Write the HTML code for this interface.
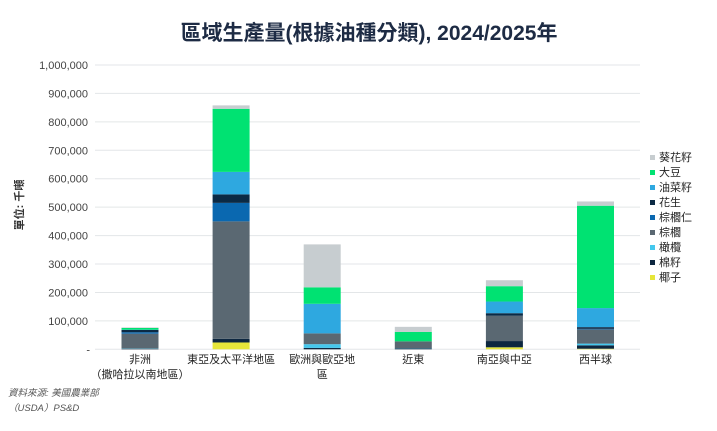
<!DOCTYPE html>
<html><head><meta charset="utf-8"><style>
html,body{margin:0;padding:0;background:#fff;}
body{width:717px;height:426px;overflow:hidden;font-family:"Liberation Sans","Noto Sans CJK TC",sans-serif;}
</style></head><body>
<svg id="chart" width="717" height="426" xmlns="http://www.w3.org/2000/svg" font-family="Liberation Sans, Noto Sans CJK TC, sans-serif">
<text x="369" y="40" text-anchor="middle" font-size="21" font-weight="bold" fill="#1d2b44">區域生產量(根據油種分類), 2024/2025年</text>
<text transform="translate(23,205) rotate(-90)" text-anchor="middle" font-size="11" font-weight="bold" fill="#333">單位: 千噸</text>
<g id="grid"></g><g id="bars"></g><g id="xlabels"></g><g id="legend"></g>
<text x="8" y="396" font-size="9.5" font-style="italic" fill="#555">資料來源: 美國農業部</text>
<text x="8" y="411" font-size="9.5" font-style="italic" fill="#555">（USDA）PS&amp;D</text>
</svg>
<script>
const categories=[["非洲","（撒哈拉以南地區）"],["東亞及太平洋地區"],["歐洲與歐亞地","區"],["近東"],["南亞與中亞"],["西半球"]];
const seriesNames=["椰子","棉籽","橄欖","棕櫚","棕櫚仁","花生","油菜籽","大豆","葵花籽"];
const seriesColors=["#e6e63a","#0d2740","#44c8ee","#5a6872","#0a68b0","#0b2a45","#2ea8e0","#00e272","#c7cdd0"];
const coconut=[0,24000,0,0,7000,2000];
const cottonseed=[2000,13000,5000,3000,22000,12000];
const olive=[1000,0,13000,1000,0,6000];
const palm=[52000,413000,38000,24000,89000,50000];
const palmKernel=[5000,65000,0,0,0,2000];
const peanut=[8000,30000,0,0,9000,6000];
const rapeseed=[1000,79000,104000,0,41000,67000];
const soybean=[6000,222000,58000,33000,54000,360000];
const sunflower=[2000,12000,151000,18000,21000,15000];
const yTicks=[0,100000,200000,300000,400000,500000,600000,700000,800000,900000,1000000];
const series=[coconut,cottonseed,olive,palm,palmKernel,peanut,rapeseed,soybean,sunflower];
const NS="http://www.w3.org/2000/svg";
const y0=349.3,yTop=65,yMax=1000000;
const y=v=>y0-(v/yMax)*(y0-yTop);
const x=i=>140+i*91.1;
const bw=37;
function mk(t,a,parent){const e=document.createElementNS(NS,t);for(const k in a)e.setAttribute(k,a[k]);document.getElementById(parent).appendChild(e);return e;}
yTicks.forEach(v=>{
  const l=mk("line",{x1:95,x2:640,y1:y(v),y2:y(v),stroke:"#e3e6e8","stroke-width":1},"grid");
  
  
  const t=mk("text",{x:v===0?90:88,y:y(v)+4,"text-anchor":"end","font-size":"11",fill:"#444"},"grid");
  t.textContent=v===0?"-":v.toLocaleString("en-US");
  
  
});
categories.forEach((c,i)=>{
  let acc=0;
  series.forEach((s,j)=>{
    const v=s[i]; if(!v) {return;}
    const r=mk("rect",{x:x(i)-bw/2,y:y(acc+v),width:bw,height:y(acc)-y(acc+v),fill:seriesColors[j]},"bars");
    
    
    acc+=v;
  });
  c.forEach((line,k)=>{
    const t=mk("text",{x:x(i),y:363+k*15,"text-anchor":"middle","font-size":"11",fill:"#222"},"xlabels");
    t.textContent=line;
    
    
  });
});
const legOrder=[8,7,6,5,4,3,2,1,0];
legOrder.forEach((j,k)=>{
  const yy=157+k*15;
  const r=mk("rect",{x:650,y:yy-2,width:5,height:5,fill:seriesColors[j]},"legend");
  
  
  const t=mk("text",{x:659,y:yy+4,"font-size":"11",fill:"#222"},"legend");
  t.textContent=seriesNames[j];
  
  
});
</script>
</body></html>
